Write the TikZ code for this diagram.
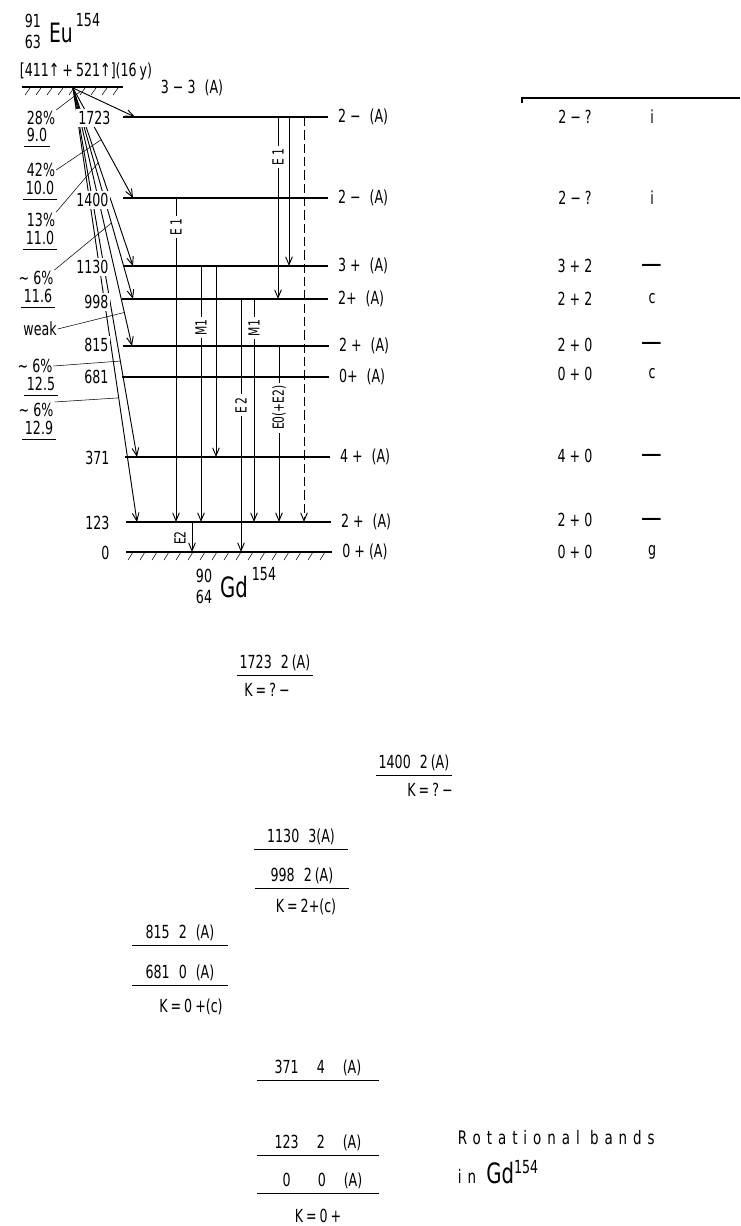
\documentclass[tikz,border=0pt]{standalone}
\usepackage{fontspec}
\setmainfont{DejaVu Sans Condensed}[FakeStretch=0.78]
\newfontfamily\spacedfont{DejaVu Sans Condensed}[FakeStretch=0.8,LetterSpace=32]
\usetikzlibrary{arrows.meta,calc}

\tikzset{every picture/.style={line width=0.8pt}}
\tikzset{
  lvl/.style={line width=1pt},
  gnd/.style={line width=1.6pt},
  tr/.style={line width=0.7pt, -{Straight Barb[length=6pt,width=5pt]}},
  lead/.style={line width=0.4pt},
  tlab/.style={rotate=90, fill=white, inner sep=2pt, font=\fontsize{11.5}{13}\selectfont},
  elab/.style={anchor=east, fill=white, inner sep=1.5pt},
  slab/.style={anchor=west, inner xsep=7pt},
  pct/.style={inner sep=0.5pt},
  uline/.style={text height=9.5pt, text depth=2.5pt, inner ysep=2pt, inner xsep=1.5pt,
    append after command={(\tikzlastnode.south west) edge[line width=0.8pt] (\tikzlastnode.south east)}},
  sline/.style={uline, text height=7.5pt, text depth=2pt, inner ysep=1.5pt},
  band/.style={uline, minimum width=#1},
}

\begin{document}
\begin{tikzpicture}[x=0.75pt,y=-0.75pt,font=\fontsize{13.5}{15}\selectfont]
    \useasboundingbox (0,0) rectangle (740,1226);

    % parent nucleus
    \node (eua) at (33,21) {91};
    \node (euz) at (33,42) {63};
    \node (eu) at (61,33) {\fontsize{20}{20}\selectfont Eu};
    \node (eum) at (88,20) {154};
    \node (conf) at (86,72) {[411↑\,+\,521↑](16\,y)};
    \node (eus) at (192,88) {3 − 3\enspace(A)};
    \draw[gnd] (22,87) -- (123,87);
    \foreach \x in {25,36,...,118} \draw[lead] (\x,95) -- ++(5,-7);
    \coordinate (par) at (73,88);

    % levels of Gd154
    \coordinate (l1723) at (123,117);
    \coordinate (l1400) at (123,198);
    \coordinate (l1130) at (124,266);
    \coordinate (l998) at (122,299);
    \coordinate (l815) at (123,346);
    \coordinate (l681) at (122,377);
    \coordinate (l371) at (125,457);
    \coordinate (l123) at (126,522);
    \coordinate (l0) at (126,552);
    \draw[lvl] (l1723) -- ++(205,0) node[slab] (s1723) {2 −\enspace(A)};
    \draw[lvl] (l1400) -- ++(205,0) node[slab] (s1400) {2 −\enspace(A)};
    \draw[lvl] (l1130) -- ++(204,0) node[slab] (s1130) {3 +\enspace(A)};
    \draw[lvl] (l998) -- ++(206,0) node[slab] (s998) {2+\enspace(A)};
    \draw[lvl] (l815) -- ++(206,0) node[slab] (s815) {2 +\enspace(A)};
    \draw[lvl] (l681) -- ++(207,0) node[slab] (s681) {0+\enspace(A)};
    \draw[lvl] (l371) -- ++(205,0) node[slab] (s371) {4 +\enspace(A)};
    \draw[lvl] (l123) -- ++(205,0) node[slab] (s123) {2 +\enspace(A)};
    \draw[gnd] (l0) -- ++(206,0) node[slab] (s0) {0 + (A)};
    \foreach \x in {128,140,...,326} \draw[lead] (\x,560) -- ++(5,-8);

    % gamma transitions
    \draw[tr] (l1723 -| 278,0) -- node[tlab,pos=0.22] (t1) {E\,1} (l998 -| 278,0);
    \draw[tr] (l1723 -| 289,0) -- (l1130 -| 289,0);
    \draw[tr,dash pattern=on 7pt off 3pt] (l1723 -| 304,0) -- (l123 -| 304,0);
    \draw[tr] (l1400 -| 176,0) -- node[tlab,pos=0.09] (t2) {E\,1} (l123 -| 176,0);
    \draw[tr] (l1130 -| 201,0) -- node[tlab,pos=0.24] (t3) {M1} (l123 -| 201,0);
    \draw[tr] (l1130 -| 216,0) -- (l371 -| 216,0);
    \draw[tr] (l998 -| 241,0) -- node[tlab,pos=0.42] (t4) {E\,2} (l0 -| 241,0);
    \draw[tr] (l998 -| 254,0) -- node[tlab,pos=0.13] (t5) {M1} (l123 -| 254,0);
    \draw[tr] (l815 -| 279,0) -- node[tlab,pos=0.35] (t6) {E0(+E2)} (l123 -| 279,0);
    \draw[tr] (l123 -| 192,0) -- (l0 -| 192,0);
    \node[tlab,fill=none] (t7) at (180,538) {E2};

    % beta branches
    \coordinate (b1723) at (135,117);
    \coordinate (b1400) at (133,198);
    \coordinate (b1130) at (133,266);
    \coordinate (b998) at (133,299);
    \coordinate (b815) at (132,346);
    \coordinate (b371) at (137,457);
    \coordinate (b123) at (137,522);
    \foreach \lv in {1723,1400,1130,998,815,371,123} \draw[tr] (par) -- (b\lv);

    % energies
    \node[elab] (e1723) at (113,118) {1723};
    \node[elab] (e1400) at (111,200) {1400};
    \node[elab] (e1130) at (111,267) {1130};
    \node[elab] (e998) at (111,302) {998};
    \node[elab] (e815) at (111,345) {815};
    \node[elab] (e681) at (111,377) {681};
    \node[elab] (e371) at (112,458) {371};
    \node[elab] (e123) at (112,523) {123};
    \node[elab] (e0) at (112,553) {0};

    % intensities and log ft
    \node[pct] (p28) at (41,118) {28\%};
    \node[sline] (v28) at (37,138) {9.0};
    \node[pct] (p42) at (41,170) {42\%};
    \node[sline] (v42) at (40,191) {10.0};
    \node[pct] (p13) at (41,220) {13\%};
    \node[sline] (v13) at (40,241) {11.0};
    \node[pct] (p6a) at (36,278) {\textasciitilde\ 6\%};
    \node[sline] (v6a) at (38,299) {11.6};
    \node[pct] (pw) at (40,329) {weak};
    \node[pct] (p6b) at (35,366) {\textasciitilde\ 6\%};
    \node[sline] (v6b) at (41,387) {12.5};
    \node[pct] (p6c) at (36,410) {\textasciitilde\ 6\%};
    \node[sline] (v6c) at (39,431) {12.9};
    \coordinate (k28) at ($(par)!0.12!(b1723)$);
    \coordinate (k42) at ($(par)!0.47!(b1400)$);
    \coordinate (k13) at ($(par)!0.42!(b1130)$);
    \coordinate (k6a) at ($(par)!0.64!(b998)$);
    \coordinate (kw) at ($(par)!0.87!(b815)$);
    \coordinate (k6b) at ($(par)!0.74!(b371)$);
    \coordinate (k6c) at ($(par)!0.714!(b123)$);
    \draw[lead] (p28.north east) -- (k28);
    \draw[lead] (p42.east) -- (k42);
    \draw[lead] (p13.north east) -- (k13);
    \draw[lead] (p6a.north east) -- (k6a);
    \draw[lead] (pw.east) -- (kw);
    \draw[lead] (p6b.east) -- (k6b);
    \draw[lead] (p6c.north east) -- (k6c);

    % daughter nucleus
    \node (gda) at (204,576) {90};
    \node (gdz) at (204,597) {64};
    \node (gd) at (234,587) {\fontsize{21}{21}\selectfont Gd};
    \node (gdm) at (264,574) {154};

    % table on the right
    \draw (522,103) -- (522,98) -- (740,98);
    \node (k1723) at (575,117) {2 − ?};
    \node (c1723) at (652,117) {i};
    \node (k1400) at (575,198) {2 − ?};
    \node (c1400) at (652,198) {i};
    \node (k1130) at (575,266) {3 + 2};
    \node (c1130) at (652,269) {\fontsize{22}{22}\selectfont —};
    \node (k998) at (575,299) {2 + 2};
    \node (c998) at (652,299) {c};
    \node (k815) at (575,345) {2 + 0};
    \node (c815) at (652,347) {\fontsize{22}{22}\selectfont —};
    \node (k681) at (575,374) {0 + 0};
    \node (c681) at (652,374) {c};
    \node (k371) at (575,456) {4 + 0};
    \node (c371) at (652,459) {\fontsize{22}{22}\selectfont —};
    \node (k123) at (575,520) {2 + 0};
    \node (c123) at (652,523) {\fontsize{22}{22}\selectfont —};
    \node (k0) at (575,552) {0 + 0};
    \node (c0) at (652,552) {g};

    % rotational bands
    \node[band=49pt] (r1723) at (275,664) {1723\enspace 2\,(A)};
    \node (q1723) at (267,690) {K\,=\,?\,−};
    \node[band=54pt] (r1400) at (414,764) {1400\enspace 2\,(A)};
    \node (q1400) at (430,790) {K\,=\,?\,−};
    \node[band=69pt] (r1130) at (301,838) {1130\enspace 3(A)};
    \node[band=69pt] (r998) at (302,877) {998\enspace 2\,(A)};
    \node (q998) at (306,907) {K\,=\,2+(c)};
    \node[band=71pt] (r815) at (180,934) {815\enspace 2\enspace (A)};
    \node[band=71pt] (r681) at (180,974) {681\enspace 0\enspace (A)};
    \node (q681) at (191,1007) {K\,=\,0\,+(c)};
    \node[band=91pt] (r371) at (318,1069) {371\quad 4\quad (A)};
    \node[band=91pt] (r123) at (318,1144) {123\quad 2\quad (A)};
    \node[band=91pt] (r0) at (318,1182) {\enspace 0\quad\enspace 0\quad (A)};
    \node (q0) at (318,1216) {K\,=\,0\,+};
    \node[anchor=west] (rot) at (453,1138) {\spacedfont\fontsize{14}{16}\selectfont Rotational bands};
    \node[anchor=west] (rin) at (453,1172) {{\spacedfont\fontsize{14}{16}\selectfont in }{\fontsize{21}{21}\selectfont Gd}\raisebox{8pt}{154}};
\end{tikzpicture}
\end{document}
